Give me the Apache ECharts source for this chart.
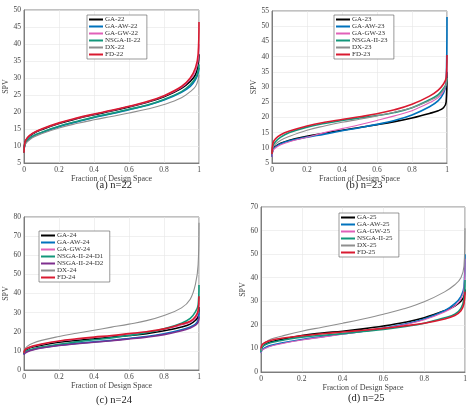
<!DOCTYPE html><html><head><meta charset="utf-8"><script src="https://cdn.jsdelivr.net/npm/echarts@6/dist/echarts.min.js"></script>
<style>body{margin:0;background:#fff}#c{width:474px;height:414px}</style></head><body><div id="c"></div><script>
const X=[0,0.005,0.02,0.05,0.1,0.2,0.3,0.4,0.5,0.6,0.7,0.8,0.9,0.95,0.98,0.995,1];
const captions=['(a) n=22','(b) n=23','(c) n=24','(d) n=25'];
const yRanges=[[5,50,5],[5,55,5],[0,80,10],[0,70,10]];
const namesA=['GA-22','GA-AW-22','GA-GW-22','NSGA-II-22','DX-22','FD-22'];
const a_GA=[8,11,12.3,13.6,14.8,16.6,18,19.2,20.3,21.5,22.8,24.5,27,29,31,34,37];
const a_AW=[8,10.5,11.6,12.8,13.9,15.7,17.1,18.4,19.5,20.7,21.9,23.5,25.8,27.5,29.5,31.5,33];
const a_GW=[8,11,12.4,13.7,14.9,16.7,18.1,19.3,20.4,21.6,22.9,24.6,27.2,29.5,32,35,40];
const a_NS=[8,10.5,11.7,12.9,14,15.8,17.2,18.5,19.6,20.8,22,23.7,26,28,30,32,34];
const a_DX=[8,10.3,11.3,12.5,13.6,15.3,16.6,17.7,18.7,19.7,20.8,22.2,24.2,26,27.5,29.5,31];
const a_FD=[8,11,12.5,13.8,15,16.8,18.2,19.4,20.5,21.7,23,24.8,27.5,30,33,37,46.5];
const namesB=['GA-23','GA-AW-23','GA-GW-23','NSGA-II-23','DX-23','FD-23'];
const b_GA=[7,9.5,10.5,11.5,12.5,13.8,14.8,15.8,16.7,17.6,18.6,19.8,21.3,22.2,23.2,25,35];
const b_AW=[7,9.3,10.3,11.3,12.3,13.5,14.5,15.6,16.6,17.7,19,20.8,23.5,25.5,28,31,53];
const b_GW=[7,9,10,11,12,13.5,15,16.3,17.6,19,20.5,22.2,24.8,26.5,28.5,31,36];
const b_NS=[8,10.5,12,13.5,15,16.8,18,19,19.8,20.6,21.6,23.2,25.8,27.5,29.5,31,33];
const b_DX=[8,10,11.2,12.5,13.8,15.8,17.2,18.4,19.4,20.5,21.7,23.2,25.5,27,29,31,33];
const b_FD=[8,11.5,13,14.3,15.5,17.2,18.4,19.3,20.2,21.2,22.5,24.3,27,29,31,33,40.5];
const namesC=['GA-24','GA-AW-24','GA-GW-24','NSGA-II-24-D1','NSGA-II-24-D2','DX-24','FD-24'];
const c_GA=[8.5,10,11,12,13,14.5,15.5,16.3,17.2,18,19,20.5,22.5,24,26,28,33];
const c_AW=[8,9,9.8,10.7,11.7,13,13.9,14.7,15.5,16.5,17.5,19,21,22.5,24,26,30];
const c_GW=[9,10.4,11.3,12.3,13.4,15,16.1,17,17.8,18.8,19.8,21.2,23.5,25,27,30,35];
const c_D1=[8.5,9.5,10.2,11,12,13.5,14.7,15.8,16.8,18,19.5,21.5,24.5,27,30.5,34,44.5];
const c_D2=[8,8.8,9.6,10.5,11.5,12.8,13.7,14.5,15.3,16.2,17.2,18.5,20.5,22,23.5,25,28];
const c_DX=[9,11,12.5,14,15.5,17.5,19.2,20.8,22.4,24,25.8,28.5,32.5,37,45,55,77];
const c_FD=[9,10.5,11.5,12.5,13.6,15.2,16.3,17.2,18,19,20,21.5,24,25.5,28,31,38.5];
const namesD=['GA-25','GA-AW-25','GA-GW-25','NSGA-II-25','DX-25','FD-25'];
const d_GA=[9,10.5,11.7,12.8,13.8,15.5,16.5,17.3,18.3,19.5,21,23,26,28,30,32,35];
const d_AW=[8,9.3,10.3,11.3,12.3,13.8,15,16.2,17.3,18.6,20.2,22.5,26,29,32,36,50];
const d_GW=[8,9.2,10,11,12,13.6,14.8,16,17.2,18.5,20,22.2,25.5,28,31,35,48];
const d_NS=[8.5,10.5,11.5,12.5,13.4,14.8,15.6,16.3,17.2,18,19.2,20.7,23,24.5,27,31,39];
const d_DX=[9,11,12.5,14,15.2,17.3,19,20.7,22.5,24.5,26.8,29.8,34,37,40,45,61];
const d_FD=[10,11.5,12.5,13.5,14.3,15.4,16.2,17,17.7,18.5,19.5,20.7,22.5,24,26,29,34];

const C={GA:'#000000',AW:'#0072BD',GW:'#E060B8',NS:'#13977A',D2:'#7E2F8E',DX:'#8F8F8F',FD:'#D91A30'};
const panels=[
 {names:namesA,data:[a_GA,a_AW,a_GW,a_NS,a_DX,a_FD],cols:['GA','AW','GW','NS','DX','FD']},
 {names:namesB,data:[b_GA,b_AW,b_GW,b_NS,b_DX,b_FD],cols:['GA','AW','GW','NS','DX','FD']},
 {names:namesC,data:[c_GA,c_AW,c_GW,c_D1,c_D2,c_DX,c_FD],cols:['GA','AW','GW','NS','D2','DX','FD']},
 {names:namesD,data:[d_GA,d_AW,d_GW,d_NS,d_DX,d_FD],cols:['GA','AW','GW','NS','DX','FD']}
];
const grids=[{left:24,top:10,width:175,height:153},{left:272,top:11,width:175,height:152},
 {left:24,top:217,width:175,height:153},{left:261,top:207,width:204,height:165}];
const legPos=[{left:87,top:15},{left:334,top:15},{left:39,top:231},{left:339,top:213}];
const capPos=[[118,186],[368,186],[118,401],[370,399]];
const font='Liberation Serif';
const opt={animation:false,grid:[],xAxis:[],yAxis:[],series:[],legend:[],graphic:[]};
panels.forEach((p,i)=>{
 const g=grids[i];
 opt.grid.push(Object.assign({show:true,borderColor:'#666',borderWidth:0.8},g));
 opt.xAxis.push({type:'value',gridIndex:i,min:0,max:1,interval:0.2,name:'Fraction of Design Space',nameLocation:'middle',nameGap:12,
  nameTextStyle:{fontFamily:font,fontSize:8,color:'#444'},axisLine:{lineStyle:{color:'#666',width:0.8}},axisTick:{show:false},
  axisLabel:{fontFamily:font,fontSize:7.5,color:'#444',margin:3,formatter:v=>(v===0||v===1)?String(v):v.toFixed(1)},
  splitLine:{lineStyle:{color:'#e6e6e6',width:0.6}}});
 const r=yRanges[i];
 opt.yAxis.push({type:'value',gridIndex:i,min:r[0],max:r[1],interval:r[2],name:'SPV',nameLocation:'middle',nameGap:13,
  nameTextStyle:{fontFamily:font,fontSize:8,color:'#444'},axisLine:{lineStyle:{color:'#666',width:0.8}},axisTick:{show:false},
  axisLabel:{fontFamily:font,fontSize:7.5,color:'#444',margin:3},splitLine:{lineStyle:{color:'#e6e6e6',width:0.6}}});
 const sNames=[];
 p.data.forEach((d,k)=>{
  const name=p.names[k]+'  ';
  sNames.push(name);
  const col=C[p.cols[k]];
  opt.series.push({type:'line',name:name,xAxisIndex:i,yAxisIndex:i,data:X.map((x,j)=>[x,d[j]]),
   smooth:0.4,showSymbol:false,lineStyle:{color:col,width:p.cols[k]==='DX'||p.cols[k]==='GW'?1.1:1.6},itemStyle:{color:col},z:p.cols[k]==='FD'?5:2});
 });
 opt.legend.push(Object.assign({data:sNames,orient:'vertical',itemGap:0,itemWidth:14,itemHeight:7,
  icon:'path://M0,4 L14,4 L14,6 L0,6 Z',
  backgroundColor:'#fff',borderColor:'#555',borderWidth:0.6,padding:[1,3,1,2],
  textStyle:{fontFamily:font,fontSize:7,color:'#333',lineHeight:7,padding:[0,0,0,-3]}},legPos[i]));
 opt.graphic.push({type:'text',left:capPos[i][0]-22,top:capPos[i][1]-6,style:{text:captions[i],font:'10.5px "Liberation Serif"',fill:'#222'}});
});
const ch=echarts.init(document.getElementById('c'));ch.setOption(opt);
</script></body></html>
